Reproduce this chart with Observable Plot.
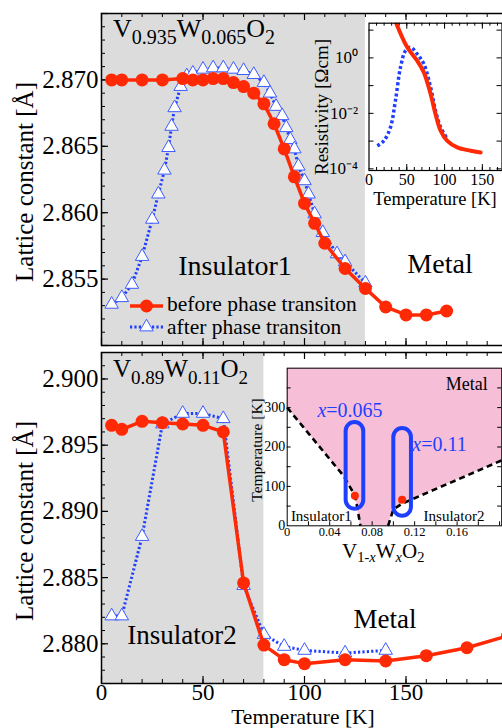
<!DOCTYPE html>
<html><head><meta charset="utf-8">
<script src="https://cdn.jsdelivr.net/npm/d3@7"></script>
<script src="https://cdn.jsdelivr.net/npm/@observablehq/plot@0.6"></script>
<style>
html,body{margin:0;padding:0;background:#fff;overflow:hidden;}
#wrap{position:relative;width:502px;height:728px;overflow:hidden;background:#fff;}
</style></head><body><div id="wrap"></div>
<script>
// ---------- data: top panel V0.935W0.065O2 ----------
const tempBefore1 = [5,10,20,30,40,45,50,55,60,65,70,75,80,85,90,95,100,105,110,120,130,140,150,160,170];
const latBefore1  = [2.8700,2.8700,2.8700,2.8700,2.8701,2.8700,2.8700,2.8701,2.8701,2.8698,2.8695,2.8690,2.8682,2.8667,2.8648,2.8627,2.8607,2.8592,2.8577,2.8558,2.8543,2.8529,2.8523,2.8523,2.8526];
const tempAfter1  = [5,10,15,20,25,28,31,33,34.5,36,39,42,45,50,55,60,65,70,75,80,83,86,89,91,93,95,97,100,102,105,109,116,120,130];
const latAfter1   = [2.8531,2.8536,2.8546,2.8567,2.8595,2.8614,2.8632,2.8649,2.8665,2.8679,2.8695,2.8703,2.8705,2.8708,2.8709,2.8709,2.8708,2.8707,2.8704,2.8698,2.8690,2.8680,2.8673,2.8664,2.8655,2.8648,2.8635,2.8624,2.8614,2.8599,2.8585,2.8569,2.8563,2.8547];
const grayRange1 = [0, 130];
const yDomain1 = [2.850, 2.875];
const yLabels1 = [2.855, 2.860, 2.865, 2.870];
const yMajor1 = [2.850, 2.855, 2.860, 2.865, 2.870, 2.875];

// ---------- data: bottom panel V0.89W0.11O2 ----------
const tempBefore2 = [5,10,20,30,40,50,60,70,80,90,100,120,140,160,180,200];
const latBefore2  = [2.8965,2.8962,2.8968,2.8967,2.8966,2.8965,2.8960,2.8846,2.8799,2.8788,2.8785,2.8788,2.8787,2.8791,2.8797,2.8806];
const tempAfter2  = [5,10,20,30,40,50,60,70,80,90,100,120,140];
const latAfter2   = [2.8821,2.8821,2.8881,2.8966,2.8974,2.8974,2.8970,2.8844,2.8807,2.8798,2.8795,2.8793,2.8795];
const grayRange2 = [0, 80];
const yDomain2 = [2.877, 2.902];
const yLabels2 = [2.880, 2.885, 2.890, 2.895, 2.900];
const yMajor2 = [2.880, 2.885, 2.890, 2.895, 2.900];

const xDomain = [0, 200];
const xLabels = [0, 50, 100, 150];
const xMajor = [0, 50, 100, 150, 200];

// ---------- inset: resistivity ----------
const resTempRed  = [36, 50.6, 63.8, 72.6, 81.5, 88, 94.7, 103.6, 116.8, 134.4, 147.7];
const resValRed   = [17.8, 2.4, 0.79, 0.30, 0.050, 0.0095, 0.0024, 0.00102, 0.00059, 0.00045, 0.00039];
const resTempBlue = [10.9, 19.6, 28.5, 35, 41.7, 48.3, 55, 63.8, 72.6, 81.5, 88, 94.7, 103.6];
const resValBlue  = [0.00068, 0.00102, 0.0032, 0.029, 0.46, 1.8, 2.4, 1.38, 0.60, 0.087, 0.0126, 0.0032, 0.0012];
const resYLabels = [1, 0.01, 0.0001];
const resYLabelText = ["10\u2070", "10\u207B\u00B2", "10\u207B\u2074"];
const resDecades = [10, 1, 0.1, 0.01, 0.001, 0.0001];
const resXLabels = [0, 50, 100, 150];

// ---------- inset: phase diagram ----------
const bndX = [0, 0.053, 0.064, 0.069, 0.095, 0.100, 0.108, 0.202];
const bndT = [300, 127, 76, 0, 0, 42, 56, 166];
const leftLineX = [0, 0.053, 0.064, 0.069];
const leftLineT = [300, 127, 76, 0];
const rightLineX = [0.095, 0.100, 0.108, 0.202];
const rightLineT = [0, 42, 56, 166];
const capsuleX1 = [0.0555, 0.1004];
const capsuleX2 = [0.0721, 0.1170];
const capsuleT1 = [42, 24];
const capsuleT2 = [262, 247];
const sampleX = [0.0637, 0.1082];
const sampleT = [76, 66];
const phXLabels = [0, 0.04, 0.08, 0.12, 0.16];
const phYLabels = [0, 100, 200, 300];

// ---------- styling ----------
const RED = "#ff2a05", BLUE = "#1f3fff", TRI = "#3d5cff", GRAY = "#dcdcdc", PINK = "#f6bfd7";
const FONT = '"Liberation Serif","Times New Roman",serif';
const baseStyle = {background: "none", maxWidth: "none", fontFamily: FONT, overflow: "visible", color: "black"};

const wrap = document.getElementById("wrap");
function place(svg, left, top) {
  svg.style.position = "absolute"; svg.style.left = left + "px"; svg.style.top = top + "px";
  wrap.appendChild(svg);
}

const W = 510, ML = 101, MR = 3, PW = W - ML - MR;
function mainPanel(o) {
  const PH = o.height - o.mt - o.mb;
  const before = o.tb.map((t, i) => ({t, a: o.ab[i]}));
  const after = o.ta.map((t, i) => ({t, a: o.aa[i]}));
  const yMinor = d3.range(Math.round(o.yDomain[0]*1000)+1, Math.round(o.yDomain[1]*1000)).map(v => v/1000);
  const xMinor = d3.range(10, 200, 10);
  const marks = [
    Plot.rect([o.gray], {x1: d => d[0], x2: d => d[1], y1: o.yDomain[0], y2: o.yDomain[1], fill: GRAY}),
    Plot.tickY(yMinor, {y: d => d, insetRight: PW - 4, stroke: "black", strokeWidth: 1}),
    Plot.tickY(o.yMajor, {y: d => d, insetRight: PW - 7, stroke: "black", strokeWidth: 1.2}),
    Plot.tickX(xMinor, {x: d => d, insetTop: PH - 4, stroke: "black", strokeWidth: 1}),
    Plot.tickX(xMajor, {x: d => d, insetTop: PH - 7, stroke: "black", strokeWidth: 1.2}),
    Plot.tickX(xMinor, {x: d => d, insetBottom: PH - 4, stroke: "black", strokeWidth: 1}),
    Plot.tickX(xMajor, {x: d => d, insetBottom: PH - 7, stroke: "black", strokeWidth: 1.2}),
    Plot.line(after, {x: "t", y: "a", stroke: BLUE, strokeWidth: 3, strokeDasharray: "2.2,2.2", strokeLinecap: "butt", strokeLinejoin: "miter"}),
    Plot.dot(after, {x: "t", y: "a", symbol: "triangle", r: 5, fill: "white", stroke: TRI, strokeWidth: 1}),
    Plot.line(before, {x: "t", y: "a", stroke: RED, strokeWidth: 3.5}),
    Plot.dot(before, {x: "t", y: "a", r: 6.5, fill: RED}),
    Plot.frame({stroke: "black", strokeWidth: 1.5}),
    Plot.axisY({ticks: o.yLabels, tickSize: 0, tickPadding: 3, tickFormat: d3.format(".3f"), fontSize: 25, label: null})
  ];
  if (o.xlabels) marks.push(Plot.axisX({ticks: xLabels, tickSize: 0, tickPadding: 0, fontSize: 23, label: null}));
  return Plot.plot({
    width: W, height: o.height, marginLeft: ML, marginRight: MR, marginTop: o.mt, marginBottom: o.mb,
    x: {domain: xDomain, axis: null}, y: {domain: o.yDomain, axis: null},
    style: baseStyle, marks
  });
}

place(mainPanel({height: 348, mt: 13, mb: 3, yDomain: yDomain1, yLabels: yLabels1, yMajor: yMajor1, gray: grayRange1,
  tb: tempBefore1, ab: latBefore1, ta: tempAfter1, aa: latAfter1, xlabels: false}), 0, 0);
place(mainPanel({height: 380, mt: 4, mb: 45, yDomain: yDomain2, yLabels: yLabels2, yMajor: yMajor2, gray: grayRange2,
  tb: tempBefore2, ab: latBefore2, ta: tempAfter2, aa: latAfter2, xlabels: true}), 0, 348);

// ---------- inset 1: resistivity ----------
{
  const red = resTempRed.map((t, i) => ({t, r: resValRed[i]}));
  const blue = resTempBlue.map((t, i) => ({t, r: resValBlue[i]}));
  const IW = 202, IML = 68.5, IMR = 0.5, IMT = 22.7, IH = 190, IMB = 20;
  const pw = IW - IML - IMR, ph = IH - IMT - IMB;
  const svg = Plot.plot({
    width: IW, height: IH, marginLeft: IML, marginRight: IMR, marginTop: IMT, marginBottom: IMB,
    x: {domain: [0, 176], axis: null},
    y: {type: "log", domain: [Math.pow(10, -4.06), Math.pow(10, 1.25)], axis: null},
    style: baseStyle,
    marks: [
      Plot.frame({fill: "white"}),
      Plot.tickY(resDecades, {y: d => d, insetRight: pw - 5, stroke: "black"}),
      Plot.tickY(resDecades, {y: d => d, insetLeft: pw - 5, stroke: "black"}),
      Plot.tickX(d3.range(10, 176, 10), {x: d => d, insetTop: ph - 3, stroke: "black"}),
      Plot.tickX([50, 100, 150], {x: d => d, insetTop: ph - 6, stroke: "black"}),
      Plot.tickX(d3.range(10, 176, 10), {x: d => d, insetBottom: ph - 3, stroke: "black"}),
      Plot.tickX([50, 100, 150], {x: d => d, insetBottom: ph - 6, stroke: "black"}),
      Plot.line(blue, {x: "t", y: "r", curve: "catmull-rom", stroke: BLUE, strokeWidth: 3.5, strokeDasharray: "3,2.5", strokeLinecap: "butt", clip: true}),
      Plot.line(red, {x: "t", y: "r", curve: "catmull-rom", stroke: RED, strokeWidth: 4, clip: true}),
      Plot.frame({stroke: "black", strokeWidth: 1.2}),
      Plot.axisY({ticks: resYLabels, tickSize: 0, tickPadding: 11, tickFormat: d => resYLabelText[resYLabels.indexOf(d)], fontSize: 17, label: null}),
      Plot.axisX({ticks: resXLabels, tickSize: 0, tickPadding: 3, fontSize: 16, label: null})
    ]
  });
  place(svg, 300, 0);
}

// ---------- inset 2: phase diagram ----------
{
  const bnd = bndX.map((x, i) => ({x, t: bndT[i]}));
  const ll = leftLineX.map((x, i) => ({x, t: leftLineT[i]}));
  const rl = rightLineX.map((x, i) => ({x, t: rightLineT[i]}));
  const caps = capsuleX1.map((x1, i) => ({x1, x2: capsuleX2[i], t1: capsuleT1[i], t2: capsuleT2[i]}));
  const samp = sampleX.map((x, i) => ({x, t: sampleT[i]}));
  const IW = 262, IML = 46.7, IMR = 0.8, IMT = 7.7, IH = 200, IMB = 34.7;
  const pw = IW - IML - IMR, ph = IH - IMT - IMB;
  const svg = Plot.plot({
    width: IW, height: IH, marginLeft: IML, marginRight: IMR, marginTop: IMT, marginBottom: IMB,
    x: {domain: [0, 0.202], axis: null}, y: {domain: [0, 400], axis: null},
    style: baseStyle,
    marks: [
      Plot.frame({fill: "white"}),
      Plot.areaY(bnd, {x: "x", y1: "t", y2: 400, fill: PINK}),
      Plot.line(ll, {x: "x", y: "t", stroke: "black", strokeWidth: 2.6, strokeDasharray: "6,4", strokeLinecap: "butt"}),
      Plot.line(rl, {x: "x", y: "t", stroke: "black", strokeWidth: 2.6, strokeDasharray: "6,4", strokeLinecap: "butt"}),
      Plot.rect(caps, {x1: "x1", x2: "x2", y1: "t1", y2: "t2", rx: 9, fill: "none", stroke: BLUE, strokeWidth: 4}),
      Plot.dot(samp, {x: "x", y: "t", r: 4, fill: RED}),
      Plot.tickY([50, 100, 150, 200, 250, 300, 350], {y: d => d, insetRight: pw - 4, stroke: "black"}),
      Plot.tickY([50, 100, 150, 200, 250, 300, 350], {y: d => d, insetLeft: pw - 4, stroke: "black"}),
      Plot.tickX([0.02, 0.04, 0.06, 0.08, 0.10, 0.12, 0.14, 0.16, 0.18, 0.20], {x: d => d, insetTop: ph - 4, stroke: "black"}),
      Plot.frame({stroke: "black", strokeWidth: 1}),
      Plot.axisY({ticks: phYLabels, tickSize: 0, tickPadding: 2, fontSize: 14, label: null}),
      Plot.axisX({ticks: phXLabels, tickSize: 0, tickPadding: 1, fontSize: 12.5, tickFormat: d => d === 0 ? "0" : d3.format(".2f")(d), label: null})
    ]
  });
  place(svg, 240, 360);
}

// ---------- overlay text ----------
const ov = d3.create("svg").attr("width", 502).attr("height", 728)
  .style("position", "absolute").style("left", "0px").style("top", "0px")
  .style("font-family", FONT).style("pointer-events", "none");
function txt(x, y, s, size, opt = {}) {
  const t = ov.append("text").attr("x", x).attr("y", y).attr("font-size", size)
    .attr("text-anchor", opt.anchor || "middle").attr("fill", opt.fill || "black").text(s);
  if (opt.rotate) t.attr("transform", `rotate(-90 ${x} ${y})`);
  return t;
}
function rich(x, y, parts, size, subSize, subShift, opt = {}) {
  const t = ov.append("text").attr("x", x).attr("y", y).attr("font-size", size)
    .attr("text-anchor", opt.anchor || "start").attr("fill", opt.fill || "black");
  let cur = 0;
  for (const p of parts) {
    const target = p.sub ? subShift : 0;
    const s = t.append("tspan").attr("dy", target - cur).text(p.t);
    cur = target;
    if (p.sub) s.attr("font-size", subSize);
    if (p.i) s.attr("font-style", "italic");
  }
  return t;
}
// titles
rich(113, 37, [{t: "V"}, {t: "0.935", sub: 1}, {t: "W"}, {t: "0.065", sub: 1}, {t: "O"}, {t: "2", sub: 1}], 26, 20, 7);
rich(113, 377, [{t: "V"}, {t: "0.89", sub: 1}, {t: "W"}, {t: "0.11", sub: 1}, {t: "O"}, {t: "2", sub: 1}], 25, 19, 7);
// axis labels
txt(33, 182, "Lattice constant [Å]", 25, {rotate: true});
txt(33, 521, "Lattice constant [Å]", 25, {rotate: true});
txt(303, 723.5, "Temperature [K]", 21.5);
// region labels
txt(235, 275, "Insulator1", 28);
txt(440, 273, "Metal", 28);
txt(182, 644, "Insulator2", 27);
txt(385, 628, "Metal", 27);
// legend
ov.append("line").attr("x1", 130).attr("x2", 163).attr("y1", 306).attr("y2", 306).attr("stroke", RED).attr("stroke-width", 3.5);
ov.append("circle").attr("cx", 146.5).attr("cy", 306).attr("r", 6.5).attr("fill", RED);
ov.append("line").attr("x1", 130).attr("x2", 163).attr("y1", 327).attr("y2", 327).attr("stroke", BLUE).attr("stroke-width", 3).attr("stroke-dasharray", "2.2,2.2");
ov.append("path").attr("d", d3.symbol(d3.symbolTriangle, 25 * Math.PI)()).attr("transform", "translate(146.5,327)")
  .attr("fill", "white").attr("stroke", TRI).attr("stroke-width", 1);
txt(167, 311, "before phase transiton", 21.5, {anchor: "start"});
txt(167, 333.5, "after phase transiton", 21.5, {anchor: "start"});
// inset 1 labels
txt(328, 107, "Resistivity [Ωcm]", 19, {rotate: true});
txt(435, 205, "Temperature [K]", 18.5);
// inset 2 labels
txt(262, 450, "Temperature [K]", 15.5, {rotate: true});
rich(342, 558, [{t: "V"}, {t: "1-", sub: 1}, {t: "x", sub: 1, i: 1}, {t: "W"}, {t: "x", sub: 1, i: 1}, {t: "O"}, {t: "2", sub: 1}], 21, 14.5, 4);
txt(466.7, 390, "Metal", 18);
txt(321.3, 521, "Insulator1", 15);
txt(454, 521, "Insulator2", 15);
rich(350, 417, [{t: "x", i: 1}, {t: "=0.065"}], 20, 20, 0, {anchor: "middle", fill: BLUE});
rich(439.5, 451, [{t: "x", i: 1}, {t: "=0.11"}], 20, 20, 0, {anchor: "middle", fill: BLUE});
wrap.appendChild(ov.node());
</script>
</body></html>
